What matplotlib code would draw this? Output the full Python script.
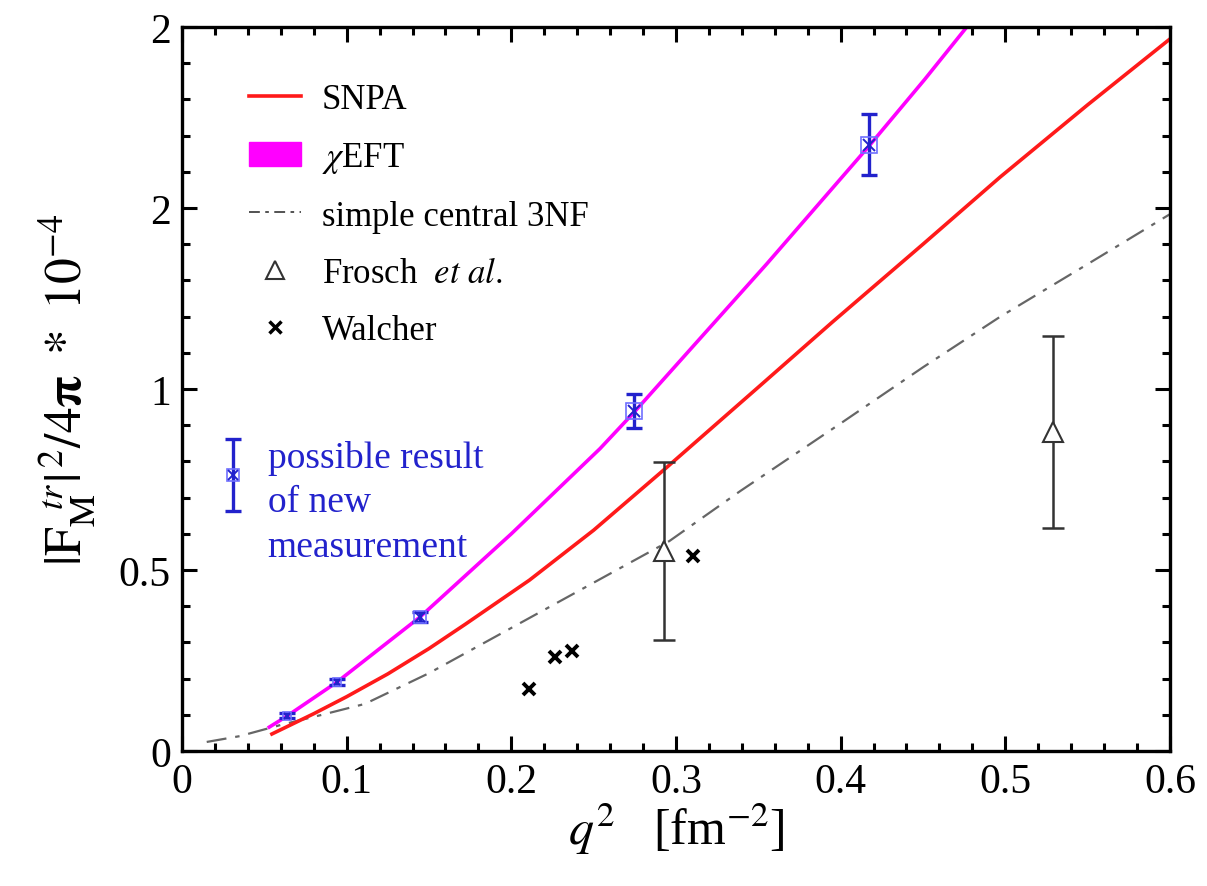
import matplotlib
matplotlib.use('Agg')
import matplotlib.pyplot as plt
from matplotlib.lines import Line2D
from matplotlib.patches import Patch
from matplotlib.ticker import MultipleLocator

plt.rcParams['font.family'] = ['Liberation Serif', 'DejaVu Serif']
plt.rcParams['mathtext.fontset'] = 'stix'

# --- data ---
snpa_x = [0.0546, 0.08, 0.10, 0.125, 0.15, 0.172, 0.211, 0.25, 0.294, 0.35, 0.395, 0.45, 0.497, 0.55, 0.60]
snpa_y = [0.047, 0.103, 0.150, 0.213, 0.283, 0.350, 0.472, 0.610, 0.782, 1.005, 1.185, 1.40, 1.586, 1.785, 1.967]

chi_x = [0.053, 0.0636, 0.094, 0.1445, 0.20, 0.2538, 0.2744, 0.355, 0.417, 0.451, 0.4766]
chi_y = [0.066, 0.096, 0.19, 0.37, 0.60, 0.835, 0.935, 1.345, 1.67, 1.855, 2.0]

nf3_x = [0.015, 0.035, 0.06, 0.085, 0.111, 0.15, 0.2, 0.252, 0.296, 0.339, 0.4, 0.45, 0.497, 0.55, 0.6]
nf3_y = [0.025, 0.041, 0.072, 0.10, 0.13, 0.215, 0.34, 0.47, 0.58, 0.718, 0.905, 1.06, 1.2, 1.345, 1.483]

new_x = [0.031, 0.0636, 0.094, 0.1445, 0.2744, 0.417]
new_y = [0.762, 0.098, 0.19, 0.37, 0.94, 1.675]
new_err = [0.1, 0.008, 0.008, 0.015, 0.047, 0.085]

frosch_x = [0.293, 0.529]
frosch_y = [0.552, 0.881]
frosch_err = [0.245, 0.265]

walcher_x = [0.211, 0.2265, 0.237, 0.3105]
walcher_y = [0.171, 0.26, 0.276, 0.539]

ytick_vals = [0, 0.5, 1, 1.5, 2]
ytick_labels = ['0', '0.5', '1', '2', '2']
xtick_vals = [0, 0.1, 0.2, 0.3, 0.4, 0.5, 0.6]
xtick_labels = ['0', '0.1', '0.2', '0.3', '0.4', '0.5', '0.6']

fig = plt.figure(figsize=(12.07, 8.87), dpi=100)
ax = fig.add_axes([0.1508, 0.1522, 0.8185, 0.8162])

# curves
ax.plot(nf3_x, nf3_y, color='#666666', lw=1.6, dashes=(9, 4, 2, 4))
ax.plot(snpa_x, snpa_y, color='#ff1a1a', lw=2.6)
ax.plot(chi_x, chi_y, color='#ff00ff', lw=2.6)

# possible new measurement
blue = '#2222cc'
box_sizes = [9, 6, 6, 9, 11, 11]
ax.errorbar(new_x, new_y, yerr=new_err, fmt='none', ecolor=blue, elinewidth=2.4,
            capsize=6, capthick=2.4, zorder=4)
for x, y, s in zip(new_x, new_y, box_sizes):
    ax.plot(x, y, marker='s', ms=s, mfc='none', mec='#7070ff', mew=1.2, zorder=5)
    ax.plot(x, y, marker='x', ms=s * 0.8, mec=blue, mew=1.4, zorder=5)

# Frosch et al.
ax.errorbar(frosch_x, frosch_y, yerr=frosch_err, fmt='none', ecolor='#333333',
            elinewidth=1.8, capsize=8, capthick=1.8, zorder=3)
ax.plot(frosch_x, frosch_y, ls='none', marker='^', ms=15, mfc='white', mec='#333333',
        mew=1.5, zorder=4)

# Walcher
ax.plot(walcher_x, walcher_y, ls='none', marker='x', ms=9, mec='black', mew=2.8)

ax.text(0.052, 0.86, 'possible result\nof new\nmeasurement', color=blue, fontsize=27,
        va='top', ha='left', linespacing=1.38)

# axes
ax.set_xlim(0, 0.6)
ax.set_ylim(0, 2)
ax.set_xticks(xtick_vals)
ax.set_xticklabels(xtick_labels)
ax.set_yticks(ytick_vals)
ax.set_yticklabels(ytick_labels)
ax.xaxis.set_minor_locator(MultipleLocator(0.02))
ax.yaxis.set_minor_locator(MultipleLocator(0.1))
ax.tick_params(which='both', direction='in', top=True, right=True, width=2.2,
               labelsize=30, pad=8)
ax.tick_params(which='major', length=11)
ax.tick_params(which='minor', length=6)
for sp in ax.spines.values():
    sp.set_linewidth(2.4)

ax.set_xlabel(r'$q^{2}$   [fm$^{-2}$]', fontsize=36, labelpad=0)
ax.set_ylabel(r'$|\mathrm{F}_{\mathrm{M}}^{\ \ tr}|^{\,2}/4\mathbf{\pi}\ *\ 10^{-4}$', fontsize=37)
ax.yaxis.set_label_coords(-0.085, 0.5)

handles = [
    Line2D([], [], color='#ff1a1a', lw=2.6),
    Patch(facecolor='#ff00ff', edgecolor='#ff00ff'),
    Line2D([], [], color='#444444', lw=1.3, dashes=(6, 3, 2, 3)),
    Line2D([], [], ls='none', marker='^', ms=13, mfc='white', mec='#333333', mew=1.5),
    Line2D([], [], ls='none', marker='x', ms=8, mec='black', mew=2.5),
]
labels = ['SNPA', r'$\chi$EFT', 'simple central 3NF', r'Frosch  $\mathit{et\ al.}$', 'Walcher']
ax.legend(handles, labels, loc='upper left', bbox_to_anchor=(0.036, 0.966), frameon=False,
          fontsize=25, handlelength=1.5, handletextpad=0.6, labelspacing=0.7)

fig.savefig('out.png', dpi=100)
